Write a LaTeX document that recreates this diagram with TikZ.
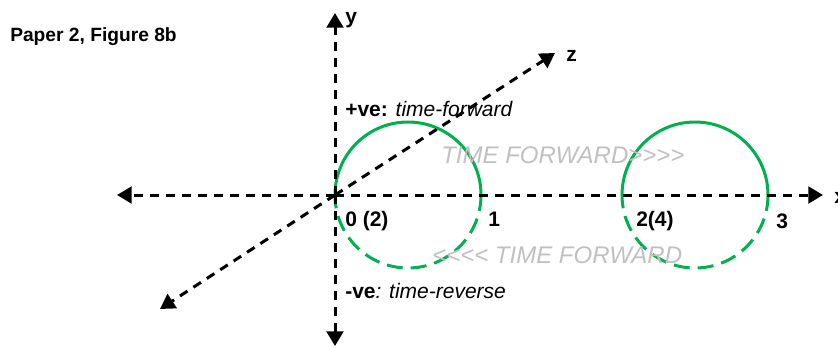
\documentclass[tikz,border=0pt]{standalone}
\usepackage{fontspec}
\setmainfont{Liberation Sans}
\usetikzlibrary{arrows.meta}
\definecolor{cgreen}{RGB}{0,176,80}
\definecolor{cgray}{RGB}{192,192,192}
\newcommand{\gtgt}{>\kern0pt>\kern0pt>\kern0pt>}
\newcommand{\ltlt}{<\kern0pt<\kern0pt<\kern0pt<}
\begin{document}
\begin{tikzpicture}[x=0.75pt,y=-0.75pt,
  axis/.style={line width=2.25pt, dash pattern=on 6.75pt off 5.25pt,
    -{Triangle[length=11pt,width=12.5pt]}},
  solidarc/.style={cgreen, line width=2.25pt},
  dasharc/.style={cgreen, line width=2.25pt, dash pattern=on 12pt off 6pt},
  lbl/.style={inner sep=0pt, anchor=base west, font=\fontsize{15.75}{18}\selectfont},
  ttl/.style={inner sep=0pt, anchor=base west, font=\fontsize{14.4}{17}\selectfont\bfseries},
  glbl/.style={inner sep=0pt, anchor=base west, text=cgray, font=\fontsize{18}{21}\selectfont\itshape}
]
\useasboundingbox (0,0) rectangle (838,347);
% coordinates
\coordinate (O) at (335,195);
\coordinate (ytop) at (335,13);
\coordinate (ybot) at (335,346);
\coordinate (xl) at (117,195);
\coordinate (xr) at (823,195);
\coordinate (zt) at (555,53);
\coordinate (zb) at (160,309);
\coordinate (c1) at (408,195);
\coordinate (c2) at (695,195);
% circles
\draw[solidarc] (c1) ++(-73,0) arc[start angle=180, end angle=360, radius=73];
\draw[dasharc] (c1) ++(73,0) arc[start angle=0, end angle=180, radius=73];
\draw[solidarc] (c2) ++(-73,0) arc[start angle=180, end angle=360, radius=73];
\draw[dasharc] (c2) ++(73,0) arc[start angle=0, end angle=180, radius=73];
% axes
\draw[axis] (O) -- (ytop);
\draw[axis] (O) -- (ybot);
\draw[axis] (O) -- (xl);
\draw[axis] (O) -- (xr);
\draw[axis] (O) -- (zt);
\draw[axis] (O) -- (zb);
% labels
\node[ttl] (title) at (10,41) {Paper 2, Figure 8b};
\node[lbl] (ylab) at (345,23.5) {\bfseries y};
\node[lbl] (zlab) at (566,61) {\bfseries z};
\node[lbl] (xlab) at (834,203) {\bfseries x};
\node[lbl] (pos) at (345,116) {\bfseries +ve: \mdseries\itshape time-forward};
\node[lbl] (neg) at (345,298) {\bfseries -ve\mdseries\itshape : time-reverse};
\node[lbl] (n0) at (345,226.5) {\bfseries 0 (2)};
\node[lbl] (n1) at (488,226.5) {\bfseries 1};
\node[lbl] (n2) at (636,226.5) {\bfseries 2(4)};
\node[lbl] (n3) at (776,228) {\bfseries 3};
\node[glbl] (tf) at (441,163) {TIME FORWARD\gtgt};
\node[glbl] (tr) at (432,263) {\ltlt{} TIME FORWARD};
\end{tikzpicture}
\end{document}
